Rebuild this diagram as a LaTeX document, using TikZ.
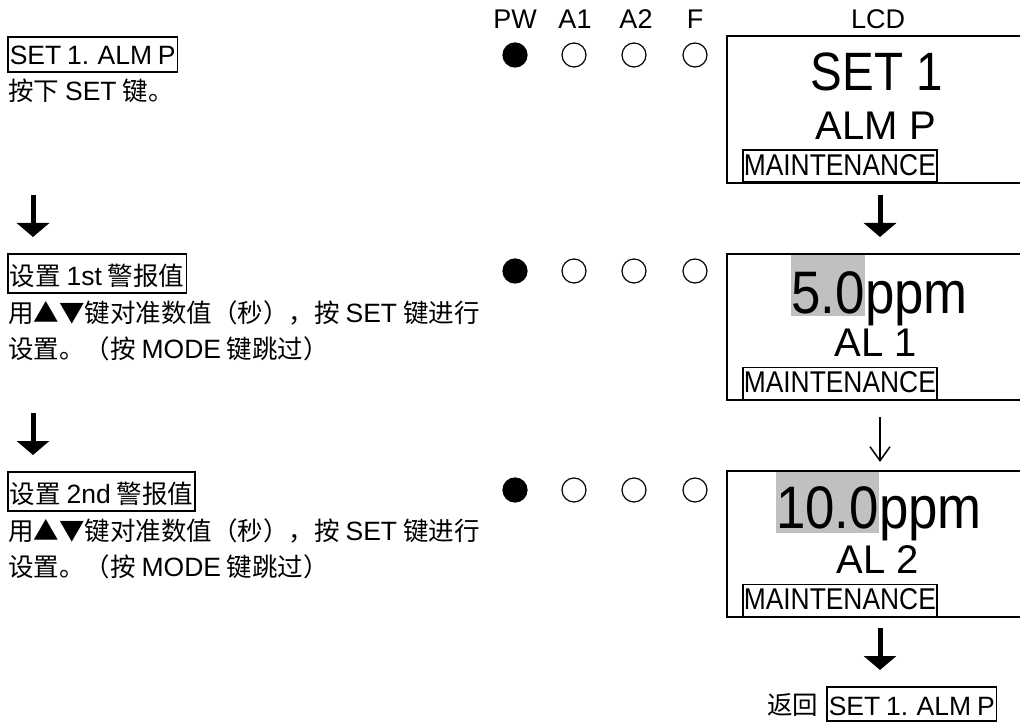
\documentclass[tikz,border=0pt]{standalone}
\usepackage{fontspec}
\setmainfont{Liberation Sans}[WordSpace=0.8]
\newfontfamily\latn{Liberation Sans}[FakeStretch=0.88]
\newfontfamily\latw{Liberation Sans}
\newfontfamily\cjk{Noto Sans CJK SC}
\usetikzlibrary{arrows.meta}
\newcommand\fsz[1]{\fontsize{#1}{#1}\selectfont}
\newcommand\zh[1]{{\cjk\fsz{25.5}#1}}
\definecolor{hlgray}{RGB}{192,192,192}
\tikzset{
  txt/.style={inner sep=0pt, anchor=base west, font=\fsz{26.5}},
  lbl/.style={inner sep=0pt, anchor=base, font=\fsz{27}},
  tag/.style={draw, line width=1.5pt, inner xsep=2pt, inner ysep=0pt,
    text height=28pt, text depth=7pt, anchor=base west, font=\fsz{26.5}},
  ctag/.style={tag, text height=31pt, text depth=8pt},
  mtag/.style={draw, line width=1.5pt, inner xsep=1pt, inner ysep=0pt,
    text height=25pt, text depth=7pt, anchor=south west, font=\latn\fsz{30}},
  led/.style={circle, draw, line width=1.2pt, minimum size=24pt, inner sep=0pt},
  ledon/.style={led, fill=black},
  lcdline/.style={line width=1.5pt},
  big/.style={inner sep=0pt, anchor=base, font=\latn\fsz{54}},
  mid/.style={inner sep=0pt, anchor=base, font=\latw\fsz{40}},
  hl/.style={fill=hlgray, inner sep=0pt, anchor=base east, font=\latn\fsz{60}},
  unit/.style={inner sep=0pt, anchor=base west, font=\latn\fsz{60}},
  thickarrow/.style={line width=5pt, -{Triangle[width=32pt,length=14pt]}},
  thinarrow/.style={line width=1.5pt, -{Straight Barb[width=20pt,length=14pt,line width=1.5pt]}},
}
\begin{document}
\begin{tikzpicture}[x=1pt,y=-1pt]
\useasboundingbox (0,0) rectangle (1020,722);

% column labels
\node[lbl] (lpw) at (515,29) {PW};
\node[lbl] (la1) at (575,29) {A1};
\node[lbl] (la2) at (636,29) {A2};
\node[lbl] (lf) at (695,29) {F};
\node[lbl] (llcd) at (878,29) {LCD};

% LEDs
\foreach \r/\y in {1/55,2/271,3/490}{
  \node[ledon] (pw\r) at (515,\y) {};
  \node[led] (aa\r) at (574,\y) {};
  \node[led] (ab\r) at (634,\y) {};
  \node[led] (ff\r) at (695,\y) {};
}

% left column
\node[tag] (t1) at (7,65) {SET 1. ALM P};
\node[txt] (l1) at (8,101) {\zh{按下} SET \zh{键。}};

\coordinate (la1s) at (33,195);
\coordinate (la1e) at (33,237);
\draw[thickarrow] (la1s) -- (la1e);

\node[ctag] (t2) at (7,285) {\zh{设置} 1st \zh{警报值}};
\node[txt] (l2a) at (8,322) {\zh{用▲▼键对准数值（秒），按} SET \zh{键进行}};
\node[txt] (l2b) at (8,358) {\zh{设置。（按} MODE \zh{键跳过）}};

\coordinate (la2s) at (33,413);
\coordinate (la2e) at (33,455);
\draw[thickarrow] (la2s) -- (la2e);

\node[ctag] (t3) at (7,503) {\zh{设置} 2nd \zh{警报值}};
\node[txt] (l3a) at (8,540) {\zh{用▲▼键对准数值（秒），按} SET \zh{键进行}};
\node[txt] (l3b) at (8,576) {\zh{设置。（按} MODE \zh{键跳过）}};

% LCD 1
\draw[lcdline] (1022,36) -| (727,183) -- (1022,183);
\node[big] (s1) at (877,91) {SET 1};
\node[mid] (s1b) at (876,140) {ALM P};
\node[mtag] (m1) at (742,183) {MAINTENANCE};

\coordinate (ra1s) at (880,195);
\coordinate (ra1e) at (880,237);
\draw[thickarrow] (ra1s) -- (ra1e);

% LCD 2
\draw[lcdline] (1022,254) -| (727,400) -- (1022,400);
\node[hl, text height=58pt, text depth=3pt] (v1) at (865,313) {5.0};
\node[unit] (u1) at (v1.base east) {ppm};
\node[mid] (al1) at (876,356) {AL 1};
\node[mtag] (m2) at (742,400) {MAINTENANCE};

\coordinate (ra2s) at (880,417);
\coordinate (ra2e) at (880,462);
\draw[thinarrow] (ra2s) -- (ra2e);

% LCD 3
\draw[lcdline] (1022,471) -| (727,617) -- (1022,617);
\node[hl, text height=56pt, text depth=5pt] (v2) at (879,528) {10.0};
\node[unit] (u2) at (v2.base east) {ppm};
\node[mid] (al2) at (878,573) {AL 2};
\node[mtag] (m3) at (742,617) {MAINTENANCE};

\coordinate (ra3s) at (880,628);
\coordinate (ra3e) at (880,670);
\draw[thickarrow] (ra3s) -- (ra3e);

% return
\node[txt] (ret) at (767,714) {\zh{返回}};
\node[tag, text depth=6pt] (rbox) at (826,715) {SET 1. ALM P};
\end{tikzpicture}
\end{document}
